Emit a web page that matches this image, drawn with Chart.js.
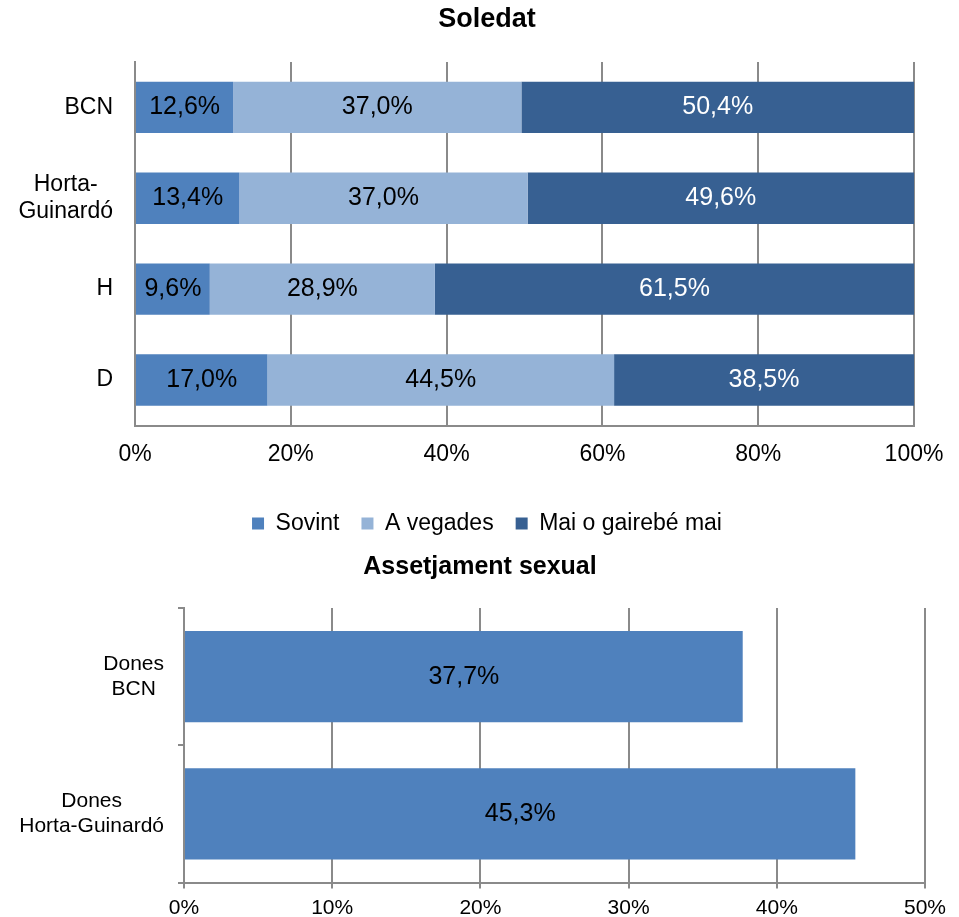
<!DOCTYPE html>
<html>
<head>
<meta charset="utf-8">
<script src="https://cdn.jsdelivr.net/npm/chart.js@4"></script>
<style>
  html, body { margin: 0; padding: 0; background: #fff; overflow: hidden; }
  #top { position: absolute; left: 0; top: 0; }
  #bottom { position: absolute; left: 0; top: 545px; }
</style>
</head>
<body>
<canvas id="top" width="959" height="545"></canvas>
<canvas id="bottom" width="959" height="372"></canvas>
<script>
// Soledat
var soledatCategories = ['BCN', ['Horta-', 'Guinardó'], 'H', 'D'];
var sovint = [12.6, 13.4, 9.6, 17.0];
var aVegades = [37.0, 37.0, 28.9, 44.5];
var maiOGaireBeMai = [50.4, 49.6, 61.5, 38.5];
var soledatSeries = ['Sovint', 'A vegades', 'Mai o gairebé mai'];

// Assetjament sexual
var assetjamentCategories = [['Dones', 'BCN'], ['Dones', 'Horta-Guinardó']];
var assetjamentValues = [37.7, 45.3];

var FONT = "'Liberation Sans', Arial, sans-serif";
Chart.defaults.font.family = FONT;
Chart.defaults.color = '#000';

function pct(v) {
    return v.toFixed(1).replace('.', ',') + '%';
}

// category labels (lines centred inside a right-aligned block) and value labels
var barText = {
    id: 'barText',
    afterDatasetsDraw: function(chart, args, opts) {
        var ctx = chart.ctx;
        var yScale = chart.scales.y;
        ctx.save();
        ctx.textAlign = 'center';
        ctx.textBaseline = 'middle';

        ctx.font = opts.valueFont;
        chart.data.datasets.forEach(function(ds, d) {
            var meta = chart.getDatasetMeta(d);
            if (meta.hidden) return;
            meta.data.forEach(function(bar, i) {
                var p = bar.getProps(['x', 'y', 'base'], true);
                ctx.fillStyle = opts.valueColors[d];
                ctx.fillText(pct(ds.data[i]), (p.x + p.base) / 2, p.y);
            });
        });

        ctx.font = opts.catFont;
        ctx.fillStyle = '#000';
        var right = chart.chartArea.left - opts.catGap;
        chart.data.labels.forEach(function(lab, i) {
            var lines = Array.isArray(lab) ? lab : [lab];
            var w = 0;
            lines.forEach(function(l) { w = Math.max(w, ctx.measureText(l).width); });
            var cy = yScale.getPixelForValue(i);
            lines.forEach(function(l, k) {
                ctx.fillText(l, right - w / 2, cy + (k - (lines.length - 1) / 2) * opts.catLine);
            });
        });
        ctx.restore();
    }
};

var GRID = '#8a8a8a';

new Chart(document.getElementById('top'), {
    type: 'bar',
    data: {
        labels: soledatCategories,
        datasets: [
            { label: soledatSeries[0], data: sovint, backgroundColor: '#4f81bd' },
            { label: soledatSeries[1], data: aVegades, backgroundColor: '#95b3d7' },
            { label: soledatSeries[2], data: maiOGaireBeMai, backgroundColor: '#376092' }
        ]
    },
    options: {
        indexAxis: 'y',
        responsive: false,
        animation: false,
        layout: { padding: { left: 60, right: 45, top: 0, bottom: 0 } },
        datasets: { bar: { barPercentage: 0.565, categoryPercentage: 1, borderWidth: 0 } },
        scales: {
            x: {
                stacked: true,
                min: 0,
                max: 100,
                ticks: { stepSize: 20, padding: 15, font: { size: 23 }, callback: function(v) { return v + '%'; } },
                grid: { color: GRID, lineWidth: 2, drawTicks: false },
                border: { color: GRID, width: 2 },
                afterFit: function(s) { s.height = 64.5; }
            },
            y: {
                stacked: true,
                ticks: { display: false },
                grid: { drawOnChartArea: false, drawTicks: false },
                border: { color: GRID, width: 2 },
                afterFit: function(s) { s.width = 75; }
            }
        },
        plugins: {
            title: {
                display: true,
                text: 'Soledat',
                font: { size: 27, weight: 'bold' },
                padding: { top: 3.5, bottom: 26 }
            },
            legend: {
                position: 'bottom',
                labels: { boxWidth: 12, boxHeight: 12, padding: 22, font: { size: 23 } }
            },
            tooltip: { enabled: false },
            barText: {
                valueFont: '25px ' + FONT,
                valueColors: ['#000', '#000', '#fff'],
                catFont: '23px ' + FONT,
                catLine: 27,
                catGap: 22
            }
        }
    },
    plugins: [barText]
});

new Chart(document.getElementById('bottom'), {
    type: 'bar',
    data: {
        labels: assetjamentCategories,
        datasets: [
            { label: 'Assetjament sexual', data: assetjamentValues, backgroundColor: '#4f81bd' }
        ]
    },
    options: {
        indexAxis: 'y',
        responsive: false,
        animation: false,
        layout: { padding: { left: 35, right: 34, top: 0, bottom: 0 } },
        datasets: { bar: { barPercentage: 0.665, categoryPercentage: 1, borderWidth: 0 } },
        scales: {
            x: {
                min: 0,
                max: 50,
                ticks: { stepSize: 10, padding: 7, font: { size: 21 }, callback: function(v) { return v + '%'; } },
                grid: { color: GRID, lineWidth: 2, drawTicks: true, tickLength: 6 },
                border: { color: GRID, width: 2 },
                afterFit: function(s) { s.height = 34.5; }
            },
            y: {
                ticks: { display: false },
                grid: { offset: true, drawOnChartArea: false, drawTicks: true, tickLength: 6, color: GRID, lineWidth: 2 },
                border: { color: GRID, width: 2 },
                afterFit: function(s) { s.width = 149; }
            }
        },
        plugins: {
            title: {
                display: true,
                text: 'Assetjament sexual',
                font: { size: 25, weight: 'bold' },
                padding: { top: 7, bottom: 26 }
            },
            legend: { display: false },
            tooltip: { enabled: false },
            barText: {
                valueFont: '25px ' + FONT,
                valueColors: ['#000'],
                catFont: '21px ' + FONT,
                catLine: 25.5,
                catGap: 20
            }
        }
    },
    plugins: [barText]
});
</script>
</body>
</html>
